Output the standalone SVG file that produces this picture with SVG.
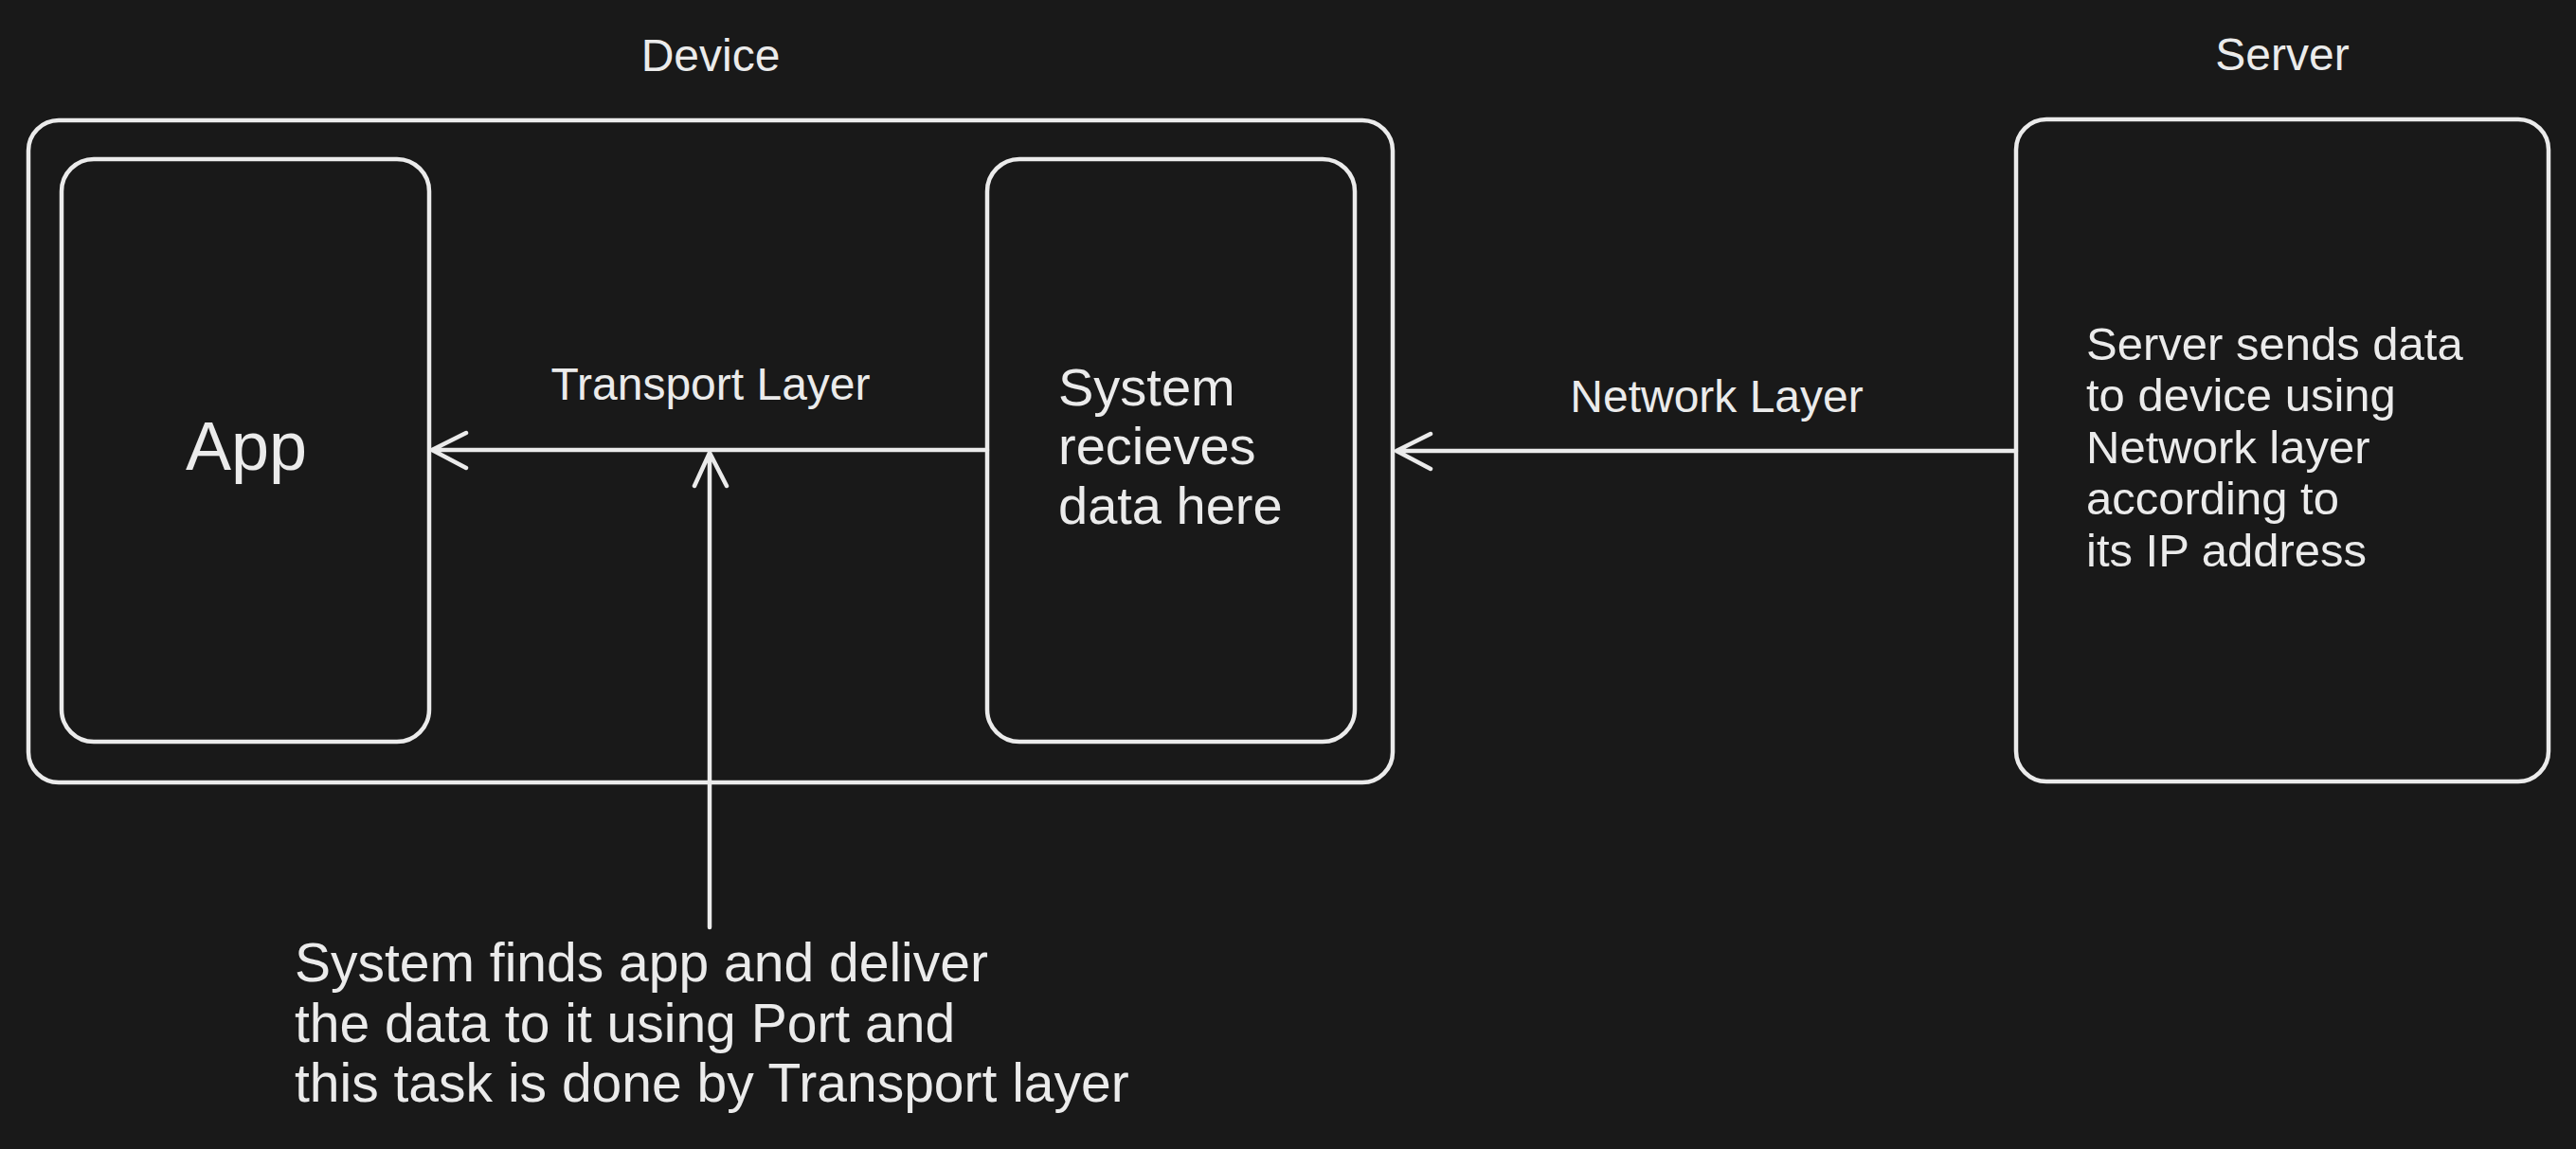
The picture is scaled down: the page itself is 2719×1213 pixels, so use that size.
<svg xmlns="http://www.w3.org/2000/svg" width="2719" height="1213" viewBox="0 0 2719 1213">
<style>
.box{fill:none;stroke:#ebebeb;stroke-width:4.5;stroke-linecap:round;stroke-linejoin:round}
.ln{fill:none;stroke:#ebebeb;stroke-width:4.5;stroke-linecap:round;stroke-linejoin:round}
.t{fill:#ebebeb;font-family:"Liberation Sans",Arial,sans-serif}
.lbl{font-size:48px}
.body{font-size:56px}
</style>
<rect width="2719" height="1213" fill="#191919"/>
<g id="device">
<rect class="box" x="30" y="127" width="1440" height="699" rx="32"/>
<text class="t lbl" x="750" y="75" text-anchor="middle">Device</text>
</g>
<g id="app">
<rect class="box" x="65" y="168" width="388" height="615" rx="34"/>
<text class="t" x="260" y="496" font-size="72" text-anchor="middle">App</text>
</g>
<g id="system">
<rect class="box" x="1042" y="168" width="388" height="615" rx="34"/>
<text class="t body" x="1117"><tspan x="1117" y="428">System</tspan><tspan x="1117" y="490">recieves</tspan><tspan x="1117" y="553">data here</tspan></text>
</g>
<g id="server">
<rect class="box" x="2128" y="126" width="562" height="699" rx="32"/>
<text class="t lbl" x="2409" y="74" text-anchor="middle">Server</text>
<text class="t" font-size="49"><tspan x="2202" y="380">Server sends data</tspan><tspan x="2202" y="434">to device using</tspan><tspan x="2202" y="489">Network layer</tspan><tspan x="2202" y="543">according to</tspan><tspan x="2202" y="598">its IP address</tspan></text>
</g>
<g id="note">
<text class="t" font-size="57"><tspan x="311" y="1036">System finds app and deliver</tspan><tspan x="311" y="1100">the data to it using Port and</tspan><tspan x="311" y="1163">this task is done by Transport layer</tspan></text>
</g>
<g id="connectors">
<path class="ln" d="M1042 475 L456 475 M492 457 L456 475 L492 494"/>
<text class="t lbl" x="750" y="422" text-anchor="middle">Transport Layer</text>
<path class="ln" d="M2128 476 L1474 476 M1510 458 L1474 476 L1510 495"/>
<text class="t lbl" x="1812" y="435" text-anchor="middle">Network Layer</text>
<path class="ln" d="M749 979 L749 478 M733 513 L749 478 L767 513"/>
</g>
</svg>
